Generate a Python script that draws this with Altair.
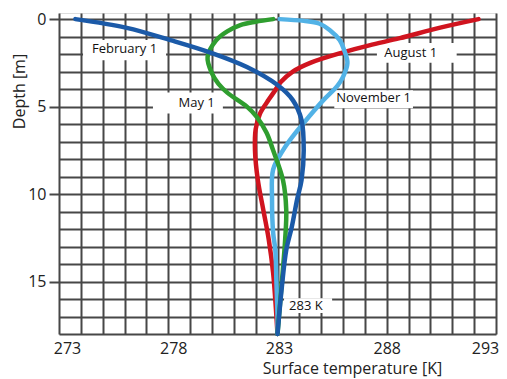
import altair as alt
import pandas as pd

# --- data (depth in m, temperature in K) ---
feb_d = [0, 0.5, 1.2, 1.9, 2.74, 3.77, 4.63, 5.77, 7.5, 9.2, 10.3, 11.9, 13.2, 15.3, 16.6, 18]
feb_t = [273.75, 276.1, 278.1, 279.9, 281.6, 283.0, 283.7, 284.1, 284.2, 284.1, 283.9, 283.65, 283.4, 283.2, 283.1, 283.0]

aug_d = [0, 0.5, 1.09, 1.5, 1.9, 2.5, 3.0, 3.6, 4.06, 4.6, 5.4, 6.3, 7.5, 9.2, 10.9, 12.6, 14.5, 16.6, 18]
aug_t = [292.2, 290.4, 288.6, 287.2, 286.0, 284.5, 283.7, 283.15, 282.9, 282.6, 282.2, 282.0, 281.97, 282.1, 282.35, 282.6, 282.8, 282.93, 283.0]

may_d = [0, 0.15, 0.34, 0.7, 1.2, 2.17, 3.1, 3.7, 4.2, 5.0, 5.6, 6.5, 7.5, 9.2, 10.9, 12.6, 15, 18]
may_t = [282.8, 282.0, 281.3, 280.7, 280.2, 279.8, 280.0, 280.3, 280.7, 281.6, 282.06, 282.5, 282.8, 283.25, 283.4, 283.35, 283.2, 283.0]

nov_d = [0, 0.1, 0.25, 0.63, 1.2, 1.77, 2.5, 3.3, 3.8, 4.63, 5.2, 5.94, 6.7, 7.5, 8.6, 10.3, 12.2, 13.2, 15, 17, 18]
nov_t = [283.1, 284.2, 284.9, 285.4, 285.85, 286.05, 286.2, 286.0, 285.75, 285.1, 284.7, 284.2, 283.7, 283.25, 282.8, 282.75, 282.8, 282.9, 282.95, 283.0, 283.0]

series = [
    ("August 1", aug_d, aug_t, "#d0141f"),
    ("November 1", nov_d, nov_t, "#52b2e6"),
    ("May 1", may_d, may_t, "#2f9e2f"),
    ("February 1", feb_d, feb_t, "#1b5aa8"),
]

# annotation labels: text, centre temperature, centre depth, box extents
label_text = ["February 1", "May 1", "August 1", "November 1", "283 K"]
label_t = [276.0, 279.3, 289.1, 287.4, 284.3]
label_d = [1.7, 4.8, 1.94, 4.5, 16.4]
box_t1 = [274.1, 277.3, 287.55, 285.6, 283.3]
box_t2 = [277.9, 280.5, 291.2, 289.2, 285.5]
box_d1 = [1.2, 4.2, 1.37, 4.06, 15.95]
box_d2 = [2.35, 5.4, 2.5, 5.09, 16.8]

rows = []
for name, ds, ts, _ in series:
    for i, (d, t) in enumerate(zip(ds, ts)):
        rows.append({"series": name, "depth": d, "temp": t, "i": i})
df = pd.DataFrame(rows)

labels = pd.DataFrame({"text": label_text, "t": label_t, "d": label_d,
                       "t1": box_t1, "t2": box_t2, "d1": box_d1, "d2": box_d2})

FONT = "Open Sans"
xscale = alt.Scale(domain=[273, 293], nice=False, zero=False)
yscale = alt.Scale(domain=[-0.35, 18], reverse=True, nice=False, zero=False)

xaxis = alt.Axis(values=list(range(273, 294)), grid=True, gridColor="#474747", gridWidth=2,
                 gridOpacity=1, domain=False, ticks=False,
                 labelExpr="datum.value % 5 === 3 ? datum.label : ''",
                 labelFlush=False,
                 labelOffset={"expr": "datum.value == 273 ? 8 : datum.value == 278 ? 5 : datum.value == 283 ? 1.5 : datum.value == 293 ? -11 : 0"},
                 labelFont=FONT, labelFontSize=16, labelColor="#222", labelPadding=6,
                 title="Surface temperature [K]", titleFont=FONT, titleFontSize=16,
                 titleFontWeight="normal", titleColor="#222",
                 titleX=293, titleY=34, titleAlign="center", titleBaseline="middle",
                 labelOverlap=False)
yaxis = alt.Axis(values=list(range(0, 19)), grid=True, gridColor="#474747", gridWidth=2,
                 gridOpacity=1, domain=False, tickSize=10, tickWidth=2,
                 tickColor={"condition": {"test": "datum.value % 5 === 0", "value": "#474747"},
                            "value": "transparent"},
                 labelExpr="datum.value % 5 === 0 ? datum.label : ''",
                 labelFont=FONT, labelFontSize=16, labelColor="#222", labelPadding=3,
                 title="Depth [m]", titleFont=FONT, titleFontSize=16, titleFontWeight="normal",
                 titleColor="#222", titleAngle=-90, titleX=-40, titleY=78,
                 titleAlign="center", titleBaseline="middle", labelOverlap=False)


def X(field):
    return alt.X(field, type="quantitative", scale=xscale, axis=xaxis)


def Y(field):
    return alt.Y(field, type="quantitative", scale=yscale, axis=yaxis)


layers = []
boxes = alt.Chart(labels).mark_rect(color="white").encode(
    x=X("t1"), x2="t2", y=Y("d1"), y2="d2")
layers.append(boxes)

for name, ds, ts, col in series:
    layers.append(
        alt.Chart(df[df.series == name]).mark_line(color=col, strokeWidth=4.5,
                                                   interpolate="catmull-rom", strokeCap="round").encode(
            x=X("temp"),
            y=Y("depth"),
            order="i:Q",
        )
    )

texts = alt.Chart(labels).mark_text(font=FONT, fontSize=13, color="#111").encode(
    x=X("t"), y=Y("d"), text="text:N")
layers.append(texts)

chart = alt.layer(*layers).properties(
    width=437, height=321,
    autosize=alt.AutoSizeParams(type="none"),
    padding={"left": 51, "top": 5, "right": 3, "bottom": 44},
).configure_view(stroke=None).configure(background="white")

chart.save("out.html", embed_options={"renderer": "svg", "actions": False})
